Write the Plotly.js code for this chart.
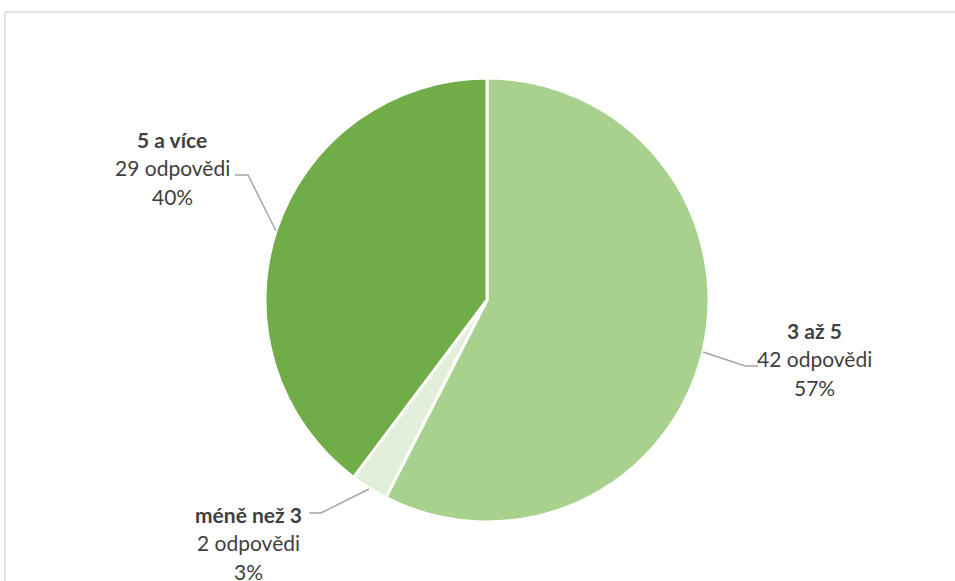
<!DOCTYPE html>
<html>
<head>
<meta charset="utf-8">
<script src="https://cdn.plot.ly/plotly-3.0.1.min.js"></script>
<style>html,body{margin:0;padding:0;background:#fff;}#chart{width:955px;height:581px;}</style>
</head>
<body>
<div id="chart"></div>
<script>
// Data
const categories = ["3 až 5", "méně než 3", "5 a více"];
const responses = [42, 2, 29];
const percentLabels = ["57%", "3%", "40%"];
const countLabels = ["42 odpovědi", "2 odpovědi", "29 odpovědi"];
const sliceColors = ["#A9D18E", "#E2EFDA", "#70AD47"];

const W = 955, H = 581;
const px = x => x / W;
const py = y => (H - y) / H;

// pie geometry (pixels)
const cx = 487, cy = 300, r = 222;

const trace = {
  type: "pie",
  labels: categories,
  values: responses,
  sort: false,
  direction: "clockwise",
  rotation: 0,
  textinfo: "none",
  hoverinfo: "label+value+percent",
  marker: { colors: sliceColors, line: { color: "#FFFFFF", width: 3 } },
  domain: { x: [px(cx - r), px(cx + r)], y: [py(cy + r), py(cy - r)] },
  showlegend: false
};

// label placement (pixels): [centerX, firstLineY]
const labelPos = [[814, 330], [248, 514], [172, 139]];
const lineGap = 28.5;
const font = "Lato, 'Liberation Sans', sans-serif";
const txtColor = "#404040";
const fs = 21;

const annotations = [];
categories.forEach((c, i) => {
  const [x, y] = labelPos[i];
  const lines = ["<b>" + c + "</b>", countLabels[i], percentLabels[i]];
  lines.forEach((t, k) => {
    annotations.push({
      x: px(x), y: py(y + k * lineGap), xref: "paper", yref: "paper",
      text: t, showarrow: false, xanchor: "center", yanchor: "middle",
      font: { family: font, size: fs, color: txtColor }
    });
  });
});

// leader lines (pixels)
const leaders = [
  [[703, 352], [745, 366], [758, 366]],
  [[369, 489], [321, 513], [309, 513]],
  [[276, 231], [248, 175], [235, 175]]
];
const shapes = leaders.map(pts => ({
  type: "path", xref: "paper", yref: "paper",
  path: "M" + pts.map(p => px(p[0]) + "," + py(p[1])).join(" L"),
  line: { color: "#A6A6A6", width: 1.5 }
}));
// chart area border (top and left)
shapes.push({ type: "line", xref: "paper", yref: "paper", x0: px(5), x1: px(960), y0: py(12), y1: py(12), line: { color: "#D9D9D9", width: 1.5 } });
shapes.push({ type: "line", xref: "paper", yref: "paper", x0: px(5), x1: px(5), y0: py(12), y1: py(590), line: { color: "#D9D9D9", width: 1.5 } });

const layout = {
  width: W, height: H,
  margin: { l: 0, r: 0, t: 0, b: 0 },
  paper_bgcolor: "#FFFFFF",
  annotations: annotations,
  shapes: shapes
};

Plotly.newPlot("chart", [trace], layout, { displayModeBar: false, staticPlot: true });
</script>
</body>
</html>
